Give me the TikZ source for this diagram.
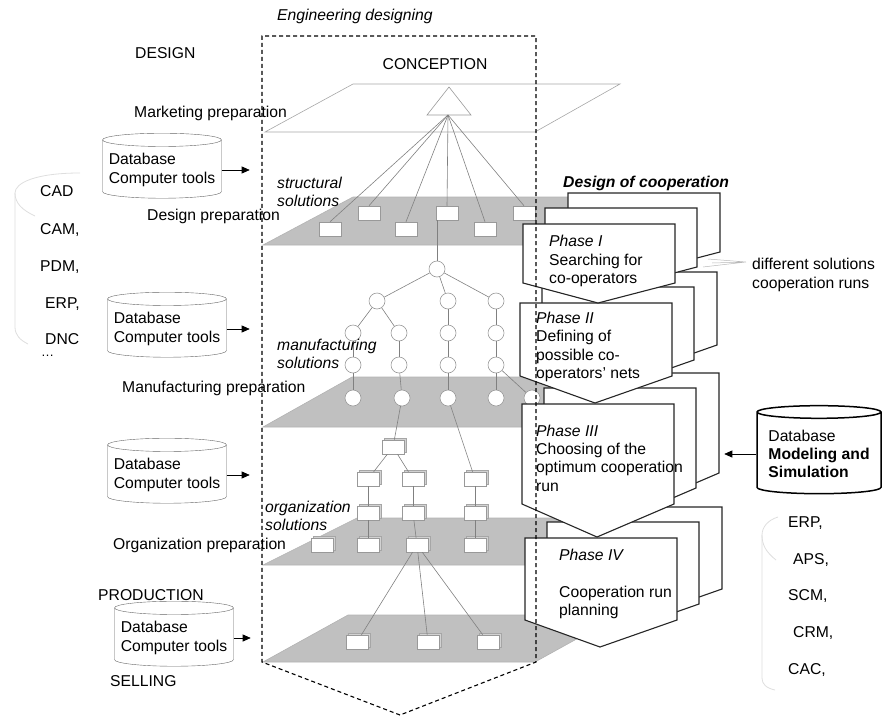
\documentclass[tikz,border=0pt]{standalone}
\usepackage{fontspec}
\setmainfont{Liberation Sans}
\usetikzlibrary{shapes.geometric,arrows.meta,shadows}
\definecolor{planegray}{RGB}{192,192,192}
\definecolor{edgegray}{RGB}{128,128,128}
\definecolor{faintgray}{RGB}{222,222,222}

\tikzset{
  plane/.style={fill=planegray, draw=gray!60, line width=0.6pt},
  link/.style={draw=edgegray, line width=0.6pt},
  soln/.style={circle, draw=gray!80, fill=white, minimum size=16pt, inner sep=0pt, line width=0.6pt},
  sdoc/.style={rectangle, draw=gray!80, fill=white, minimum width=22pt, minimum height=14pt, inner sep=0pt, line width=0.5pt},
  obox/.style={sdoc, copy shadow={shadow xshift=2.5pt, shadow yshift=2pt, fill=gray!35, draw=gray!70}},
  card/.style={draw=black!85, line width=1.1pt, fill=white},
  dbase/.style={cylinder, shape border rotate=90, aspect=0.12, draw=gray!80!black, fill=white, align=left, inner sep=2pt, minimum width=119pt, minimum height=65pt},
  arr/.style={-{Triangle[length=8pt,width=7pt]}, line width=0.7pt},
  lab/.style={anchor=west, inner sep=0pt},
  faint/.style={draw=faintgray, line width=0.8pt},
  fanline/.style={draw=gray!55, line width=0.5pt}
}

% one card of a phase: x, y, height, tip depth
\newcommand{\phasecard}[4]{%
  \draw[card] (#1,#2) -- ++(152,0) -- ++(0,#3) -- ++(-77,#4) -- ++(-75,-#4) -- cycle;}
\newcommand{\phasestack}[4]{%
  \phasecard{#1+45}{#2-31}{#3}{#4}%
  \phasecard{#1+22}{#2-16}{#3}{#4}%
  \phasecard{#1}{#2}{#3}{#4}}

\begin{document}
\begin{tikzpicture}[x=1pt, y=-1pt, font=\fontsize{15.7}{18.3}\selectfont]
\useasboundingbox (0,0) rectangle (882,717);

% tool lists
\draw[faint] (80,173) .. controls (35,173) and (15,183) .. (15,193) -- (15,327) .. controls (15,335) and (20,340) .. (28,344);
\draw[faint] (15,193) .. controls (15,203) and (22,210) .. (35,216);
\draw[faint] (778,517) .. controls (768,520) and (762,527) .. (762,535) -- (762,678) .. controls (762,684) and (766,688) .. (775,690);
\draw[faint] (762,535) .. controls (762,545) and (766,552) .. (776,560);

% planes
\draw[gray!70, line width=0.6pt] (265,132) -- (353,84) -- (620,84) -- (535,132) -- cycle;
\draw[plane] (263,245) -- (353,197) -- (620,197) -- (535,245) -- cycle;
\draw[plane] (263,427) -- (352,377) -- (620,377) -- (535,427) -- cycle;
\draw[plane] (263,565) -- (357,518) -- (620,518) -- (535,565) -- cycle;
\draw[plane] (263,662) -- (348,615) -- (620,615) -- (535,662) -- cycle;

% conception
\node[anchor=center, inner sep=0pt] (concept) at (435,64) {CONCEPTION};
\draw[gray!80, fill=white, line width=0.6pt] (449,87) -- (471,115) -- (427,115) -- cycle;
\coordinate (apex) at (448,115);

% structural solutions
\node[sdoc] (s1) at (330,229) {};
\node[sdoc] (s2) at (369,213) {};
\node[sdoc] (s3) at (406,229) {};
\node[sdoc] (s4) at (447,213) {};
\node[sdoc] (s5) at (485,229) {};
\node[sdoc] (s6) at (524,213) {};
\foreach \i in {1,...,6}
  \draw[link] (apex) -- (s\i.north);

% manufacturing solutions
\node[soln] (m0) at (437,269) {};
\node[soln] (m1a) at (377,301) {};
\node[soln] (m1b) at (448,301) {};
\node[soln] (m1c) at (496,301) {};
\node[soln] (m2a) at (353,333) {};
\node[soln] (m2b) at (399,333) {};
\node[soln] (m2c) at (448,333) {};
\node[soln] (m2d) at (496,333) {};
\node[soln] (m3a) at (353,365) {};
\node[soln] (m3b) at (399,365) {};
\node[soln] (m3c) at (448,365) {};
\node[soln] (m3d) at (496,365) {};
\node[soln] (m4a) at (353,398) {};
\node[soln] (m4b) at (402,398) {};
\node[soln] (m4c) at (448,398) {};
\node[soln] (m4d) at (496,398) {};
\node[soln] (m4e) at (532,398) {};
\draw[link] (m0) -- (m0 |- s4.south);
\foreach \a/\b in {m0/m1a, m0/m1b, m0/m1c, m1a/m2a, m1a/m2b, m1b/m2c, m1c/m2d,
    m2a/m3a, m2b/m3b, m2c/m3c, m2d/m3d, m3a/m4a, m3b/m4b, m3c/m4c, m3d/m4d, m3d/m4e}
  \draw[link] (\a) -- (\b);

% organization solutions
\node[obox] (o0) at (393,447) {};
\node[obox] (o1a) at (368,479) {};
\node[obox] (o1b) at (413,479) {};
\node[obox] (o1c) at (475,479) {};
\node[obox] (o2a) at (368,513) {};
\node[obox] (o2b) at (413,513) {};
\node[obox] (o2c) at (475,513) {};
\node[obox] (o3a) at (322,545) {};
\node[obox] (o3b) at (368,545) {};
\node[obox] (o3c) at (417,545) {};
\node[obox] (o3d) at (475,545) {};
\node[obox] (b1) at (357,642) {};
\node[obox] (b2) at (428,642) {};
\node[obox] (b3) at (488,642) {};
\foreach \a/\b in {m4b/o0, m4c/o1c, o0/o1a, o0/o1b, o1a/o2a, o1b/o2b, o1c/o2c,
    o2a/o3b, o2b/o3c, o2c/o3d, o3c/b1, o3c/b2, o3c/b3}
  \draw[link] (\a) -- (\b);

% cooperation phases
\phasestack{525}{538}{82}{27}
\phasestack{522}{404}{100}{33}
\phasestack{520}{303}{73}{27}
\phasestack{523}{224}{59}{20}
\node[lab, align=left] (ph1) at (549,261) {\textit{Phase I}\\Searching for\\co-operators};
\node[lab, align=left] (ph2) at (536,347) {\textit{Phase II}\\Defining of\\possible co-\\operators' nets};
\node[lab, align=left] (ph3) at (536,458) {\textit{Phase III}\\Choosing of the\\optimum cooperation\\run};
\node[lab, align=left] (ph4) at (559,584) {\textit{Phase IV}\\\mbox{}\\Cooperation run\\planning};
\node[lab] (coop) at (563,183) {\textbf{\textit{Design of cooperation}}};

% engineering designing frame
\draw[line width=1.1pt, dash pattern=on 4pt off 3pt] (400,715) -- (262,662) -- (262,36) -- (536,36) -- (536,662) -- cycle;
\node[lab] (eng) at (277,16) {\textit{Engineering designing}};

% left side
\node[lab] (design) at (135,53) {DESIGN};
\node[lab] (mkt) at (134,113) {Marketing preparation};
\node[lab] (dprep) at (147,216) {Design preparation};
\node[lab] (mprep) at (122,388) {Manufacturing preparation};
\node[lab] (oprep) at (113,545) {Organization preparation};
\node[lab] (prod) at (98,595) {PRODUCTION};
\node[lab] (sell) at (110,681) {SELLING};
\node[lab, align=left] (struct) at (277,192) {\textit{structural}\\\textit{solutions}};
\node[lab, align=left] (manuf) at (277,354) {\textit{manufacturing}\\\textit{solutions}};
\node[lab, align=left] (organ) at (265,516) {\textit{organization}\\\textit{solutions}};

\node[dbase] (db1) at (162,170) {Database\\Computer tools};
\node[dbase] (db2) at (167,329) {Database\\Computer tools};
\node[dbase] (db3) at (167,475) {Database\\Computer tools};
\node[dbase] (db4) at (174,638) {Database\\Computer tools};
\draw[arr] (db1.east) -- ++(28,0);
\draw[arr] (db2.east) -- ++(23,0);
\draw[arr] (db3.east) -- ++(23,0);
\draw[arr] (db4.east) -- ++(17,0);

\node[lab] (cad) at (40,191) {CAD};
\node[lab] (cam) at (40,230) {CAM,};
\node[lab] (pdm) at (40,267) {PDM,};
\node[lab] (erp) at (45,304) {ERP,};
\node[lab] (dnc) at (45,339) {DNC};
\node[lab, font=\fontsize{13}{15}\selectfont] (more) at (41,356) {\dots};

% right side
\node[dbase, draw=black, line width=1.5pt, minimum width=124pt, minimum height=88pt] (dbms) at (819,454) {Database\\\textbf{Modeling and}\\\textbf{Simulation}};
\draw[arr] (dbms.west) -- ++(-32,0);

\node[lab] (erp2) at (788,523) {ERP,};
\node[lab] (aps) at (793,560) {APS,};
\node[lab] (scm) at (788,596) {SCM,};
\node[lab] (crm) at (793,633) {CRM,};
\node[lab] (cac) at (788,670) {CAC,};

\node[lab, align=left] (diff) at (752,275) {different solutions\\cooperation runs};
\coordinate (fantip) at (746,262);
\draw[fanline] (fantip) -- ++(-38,-3) (fantip) -- ++(-43,5) (fantip) -- ++(-34,1);
\end{tikzpicture}
\end{document}
